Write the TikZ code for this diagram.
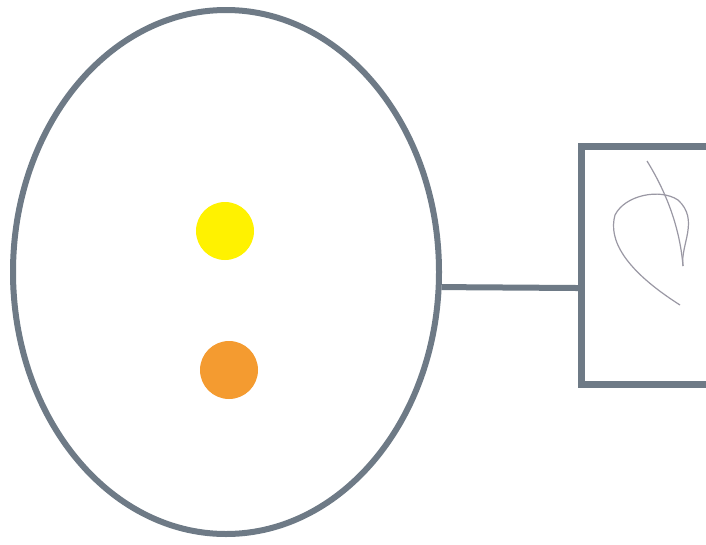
\documentclass[tikz,border=0pt]{standalone}
\usetikzlibrary{shapes.geometric}
\definecolor{pen}{HTML}{6E7A86}
\definecolor{dotyellow}{HTML}{FFF200}
\definecolor{dotorange}{HTML}{F49B30}
\definecolor{pencil}{HTML}{9A98A4}
\tikzset{
  penline/.style={draw=pen, line width=6pt},
  dot/.style={circle, minimum size=58pt, inner sep=0pt},
}
\begin{document}
\begin{tikzpicture}[x=1pt,y=-1pt]
\useasboundingbox (0,0) rectangle (706,544);
\clip (0,0) rectangle (706,544);
\fill[white] (0,0) rectangle (706,544);
\node[ellipse, penline, minimum width=426pt, minimum height=524pt, inner sep=0pt] (egg) at (226,272) {};
\node[dot, fill=dotyellow] (yellow) at (225,231) {};
\node[dot, fill=dotorange] (orange) at (229,370) {};
\node[rectangle, draw=pen, line width=7pt, minimum width=150pt, minimum height=238pt, inner sep=0pt, anchor=north west] (box) at (578,143) {};
\draw[penline] (egg.-4) -- (box.-164);
\draw[pen, line width=4pt] (12,264) -- (13,292);
\draw[pencil, line width=1.2pt] (647,161) .. controls (668,195) and (680,230) .. (683,266);
\draw[pencil, line width=1.2pt] (683,266) .. controls (680,245) and (700,220) .. (678,200)
  .. controls (660,188) and (625,195) .. (615,215)
  .. controls (608,240) and (625,270) .. (680,305);
\end{tikzpicture}
\end{document}
